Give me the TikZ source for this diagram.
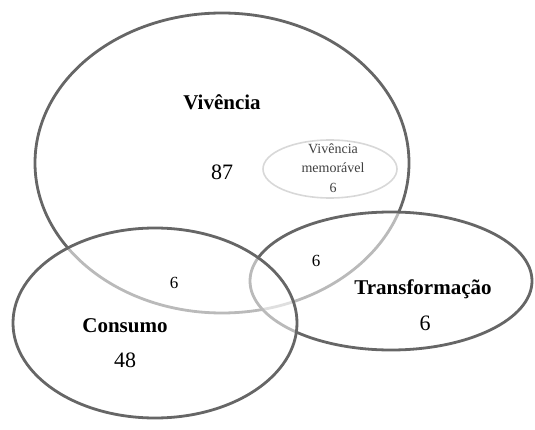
\documentclass[tikz,border=0pt]{standalone}
\usepackage{fontspec}
\setmainfont{Liberation Serif}
\usepackage{xcolor}
\usetikzlibrary{positioning,shapes.geometric}

\definecolor{ringgray}{HTML}{666666}
\definecolor{softgray}{HTML}{D8D8D8}

\begin{document}
\begin{tikzpicture}[
    x=1pt, y=-1pt,
    ring/.style={ellipse, draw=ringgray, line width=2.8pt, inner sep=0pt},
    veil/.style={ring, fill=white, fill opacity=0.55},
    inner/.style={ellipse, draw=softgray, line width=1.6pt, inner sep=0pt},
    title/.style={font=\fontsize{21}{24}\selectfont\bfseries},
    count/.style={font=\fontsize{22}{24}\selectfont},
    share/.style={font=\fontsize{17}{18}\selectfont},
    tiny/.style={align=center, text=black!75, font=\fontsize{14}{19.5}\selectfont}
  ]
    \useasboundingbox (0,0) rectangle (535,430);
    % circles
    \node[ring, minimum width=374pt, minimum height=300pt] (viv) at (222,163) {};
    \node[inner, minimum width=134pt, minimum height=58pt] (mem) at (330,169) {};
    \node[veil, minimum width=282pt, minimum height=138pt] (tra) at (391,281) {};
    \node[veil, minimum width=284pt, minimum height=190pt] (con) at (155,323) {};
    % labels
    \node[title] (vivlbl) at (222,102) {Vivência};
    \node[count] (vivn) at (222,172) {87};
    \node[tiny] (memlbl) at (333,168) {Vivência\\memorável\\6};
    \node[share] (vcn) at (174,283) {6};
    \node[share] (vtn) at (316,261) {6};
    \node[title] (tralbl) at (423,289) {Transformação};
    \node[count] (tran) at (425,323) {6};
    \node[title] (conlbl) at (125,326) {Consumo};
    \node[count] (conn) at (125,360) {48};
\end{tikzpicture}
\end{document}
